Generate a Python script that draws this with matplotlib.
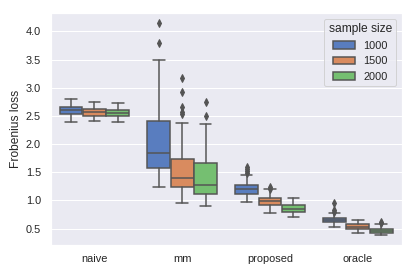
import matplotlib
matplotlib.use("Agg")
import matplotlib.pyplot as plt
import matplotlib.colors as mcolors
from matplotlib.patches import Patch
import seaborn as sns
import colorsys

sns.set_theme(style="darkgrid", palette="muted")
plt.rcParams['font.family'] = ['Liberation Sans', 'DejaVu Sans']

categories = ["naive", "mm", "proposed", "oracle"]
sizes = ["1000", "1500", "2000"]

# per size: lists over categories
q1 = {
    "1000": [2.53, 1.57, 1.12, 0.61],
    "1500": [2.50, 1.245, 0.925, 0.495],
    "2000": [2.50, 1.115, 0.80, 0.43],
}
med = {
    "1000": [2.60, 1.85, 1.20, 0.655],
    "1500": [2.57, 1.40, 0.985, 0.535],
    "2000": [2.55, 1.27, 0.855, 0.465],
}
q3 = {
    "1000": [2.65, 2.41, 1.27, 0.69],
    "1500": [2.63, 1.73, 1.04, 0.58],
    "2000": [2.61, 1.66, 0.915, 0.50],
}
whislo = {
    "1000": [2.40, 1.245, 0.97, 0.535],
    "1500": [2.41, 0.96, 0.78, 0.42],
    "2000": [2.40, 0.90, 0.71, 0.38],
}
whishi = {
    "1000": [2.80, 3.49, 1.45, 0.77],
    "1500": [2.75, 2.37, 1.20, 0.655],
    "2000": [2.72, 2.36, 1.05, 0.585],
}
fliers = {
    "1000": [[], [4.15, 3.79], [1.59, 1.55, 1.52, 1.49], [0.96, 0.83, 0.80]],
    "1500": [[], [3.17, 2.92, 2.65, 2.57, 2.53], [1.24, 1.21], []],
    "2000": [[], [2.74, 2.50], [], [0.62, 0.60]],
}

base = sns.color_palette("muted", 3)
cols = [sns.desaturate(c, 0.75) for c in base]
lum = min(colorsys.rgb_to_hls(*c)[1] for c in cols) * 0.6
gray = mcolors.rgb2hex((lum, lum, lum))

fig = plt.figure(figsize=(415 / 72, 277 / 72), dpi=72)
ax = fig.add_axes([50.5 / 415, 1 - 245 / 277, (401.7 - 50.5) / 415, (245 - 13.3) / 277])

width = 0.8
n = len(sizes)
each = width / n
offsets = [(-1 + k) * each for k in range(n)]
lw = 1.5

for k, s in enumerate(sizes):
    stats = []
    for i in range(len(categories)):
        stats.append(dict(med=med[s][i], q1=q1[s][i], q3=q3[s][i],
                          whislo=whislo[s][i], whishi=whishi[s][i],
                          fliers=fliers[s][i]))
    pos = [i + offsets[k] for i in range(len(categories))]
    ax.bxp(stats, positions=pos, widths=each * 0.98, patch_artist=True,
           boxprops=dict(facecolor=cols[k], edgecolor=gray, linewidth=lw),
           medianprops=dict(color=gray, linewidth=lw),
           whiskerprops=dict(color=gray, linewidth=lw),
           capprops=dict(color=gray, linewidth=lw),
           flierprops=dict(marker="d", markersize=5, markerfacecolor=gray,
                           markeredgecolor=gray, linestyle="none"),
           manage_ticks=False)

ax.set_xlim(-0.5, 3.5)
ax.set_ylim(0.21, 4.32)
ax.set_xticks(range(len(categories)))
ax.set_xticklabels(categories)
ax.set_yticks([0.5, 1.0, 1.5, 2.0, 2.5, 3.0, 3.5, 4.0])
ax.xaxis.grid(False)
ax.set_ylabel("Frobenius loss")
ax.set_xlabel("")

handles = [Patch(facecolor=cols[k], edgecolor=gray, linewidth=lw, label=s)
           for k, s in enumerate(sizes)]
ax.legend(handles=handles, title="sample size", loc="upper right")

fig.savefig("out.png", dpi=72)
